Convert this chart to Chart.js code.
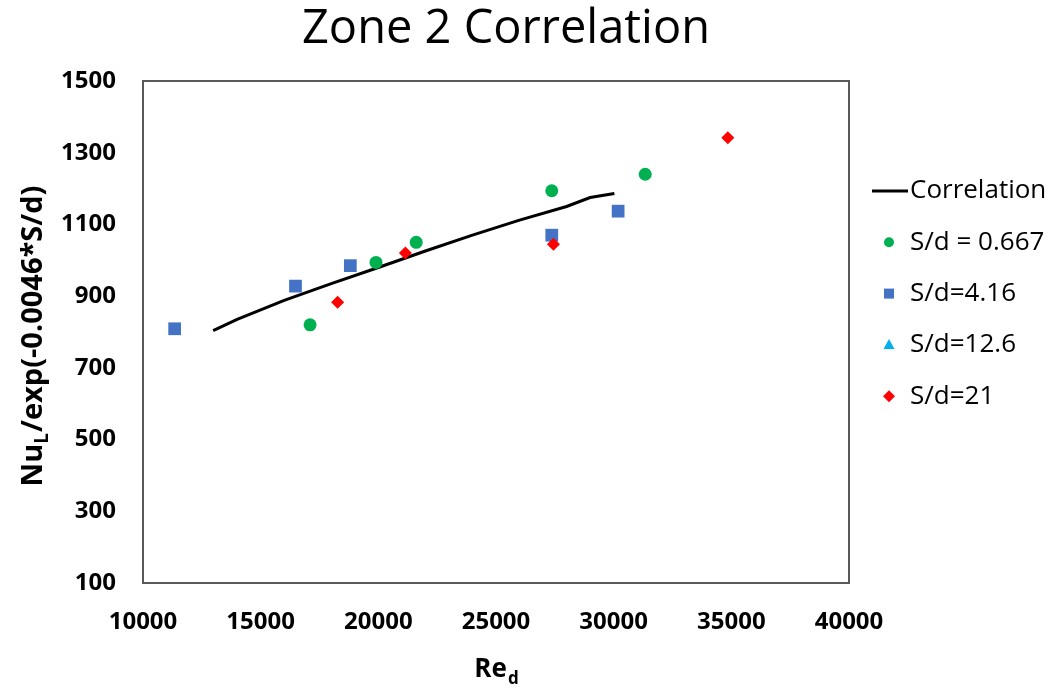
<!DOCTYPE html>
<html><head><meta charset="utf-8">
<script src="https://cdn.jsdelivr.net/npm/chart.js@4.4.1/dist/chart.umd.min.js"></script>
<style>html,body{margin:0;padding:0;background:#fff;}#wrap{width:1060px;height:691px;}</style>
</head><body><div id="wrap"><canvas id="c" width="1060" height="691"></canvas></div>
<script>
const chartTitle = "Zone 2 Correlation";
const xTitleMain = "Re";
const xTitleSub = "d";
const yTitleParts = ["Nu", "L", "/exp(-0.0046*S/d)"];
const xTickLabels = [10000, 15000, 20000, 25000, 30000, 35000, 40000];
const yTickLabels = [100, 300, 500, 700, 900, 1100, 1300, 1500];
const seriesNames = ["Correlation", "S/d = 0.667", "S/d=4.16", "S/d=12.6", "S/d=21"];

const correlationRe = [12980, 14000, 16000, 18000, 20000, 22000, 24000, 26000, 28000, 29000, 30030];
const correlationNu = [804, 835, 888, 935, 980, 1026, 1070, 1112, 1150, 1175, 1186];
const sd0667Re = [17100, 19900, 21610, 27370, 31340];
const sd0667Nu = [820, 994, 1050, 1194, 1240];
const sd416Re = [11345, 16480, 18810, 27370, 30190];
const sd416Nu = [809, 928, 985, 1070, 1137];
const sd126Re = [];
const sd126Nu = [];
const sd21Re = [18270, 21150, 27440, 34850];
const sd21Nu = [883, 1020, 1045, 1342];

function pts(xs, ys) { return xs.map((x, i) => ({x: x, y: ys[i]})); }

const FONT = "'Open Sans', 'Liberation Sans', sans-serif";

const decorPlugin = {
  id: 'decor',
  afterDraw(chart) {
    const ctx = chart.ctx;
    const a = chart.chartArea;
    ctx.save();
    // plot box
    ctx.strokeStyle = '#595959';
    ctx.lineWidth = 2;
    ctx.strokeRect(a.left, a.top, a.right - a.left, a.bottom - a.top);
    // title
    ctx.fillStyle = '#000';
    ctx.font = "47px " + FONT;
    ctx.textAlign = 'center';
    ctx.textBaseline = 'alphabetic';
    ctx.fillText(chartTitle, 506, 43);
    // x title with subscript
    ctx.font = "bold 26px " + FONT;
    const wMain = ctx.measureText(xTitleMain).width;
    ctx.font = "bold 17px " + FONT;
    const wSub = ctx.measureText(xTitleSub).width;
    let sx = (a.left + a.right) / 2 - (wMain + wSub) / 2;
    ctx.textAlign = 'left';
    ctx.font = "bold 26px " + FONT;
    ctx.fillText(xTitleMain, sx, 677);
    ctx.font = "bold 17px " + FONT;
    ctx.fillText(xTitleSub, sx + wMain + 1, 684);
    // y title rotated with subscript
    ctx.translate(42, (a.top + a.bottom) / 2 + 4);
    ctx.rotate(-Math.PI / 2);
    ctx.font = "bold 29px " + FONT;
    const w0 = ctx.measureText(yTitleParts[0]).width;
    const w2 = ctx.measureText(yTitleParts[2]).width;
    ctx.font = "bold 19px " + FONT;
    const w1 = ctx.measureText(yTitleParts[1]).width;
    let tx = -(w0 + w1 + w2 + 1) / 2;
    ctx.font = "bold 29px " + FONT;
    ctx.fillText(yTitleParts[0], tx, 0);
    ctx.font = "bold 19px " + FONT;
    ctx.fillText(yTitleParts[1], tx + w0, 6);
    ctx.font = "bold 29px " + FONT;
    ctx.fillText(yTitleParts[2], tx + w0 + w1 + 1, 0);
    ctx.restore();

    // legend
    ctx.save();
    const rowY0 = 191, rowGap = 51.3, mx = 889;
    chart.data.datasets.forEach((ds, i) => {
      const y = rowY0 + i * rowGap;
      ctx.fillStyle = ds.backgroundColor || '#000';
      ctx.strokeStyle = ds.borderColor || '#000';
      if (ds.showLine) {
        ctx.lineWidth = 3;
        ctx.beginPath();
        ctx.moveTo(872, y); ctx.lineTo(908, y);
        ctx.stroke();
      } else {
        ctx.beginPath();
        const st = ds.pointStyle;
        if (st === 'circle') { ctx.arc(mx, y, 5, 0, Math.PI * 2); }
        else if (st === 'rect') { ctx.rect(mx - 5, y - 5, 10, 10); }
        else if (st === 'triangle') { ctx.moveTo(mx, y - 6); ctx.lineTo(mx + 5.5, y + 4); ctx.lineTo(mx - 5.5, y + 4); ctx.closePath(); }
        else if (st === 'rectRot') { ctx.moveTo(mx, y - 6); ctx.lineTo(mx + 6, y); ctx.lineTo(mx, y + 6); ctx.lineTo(mx - 6, y); ctx.closePath(); }
        ctx.fill();
      }
      ctx.fillStyle = '#000';
      ctx.font = "26px " + FONT;
      ctx.textAlign = 'left';
      ctx.textBaseline = 'middle';
      ctx.fillText(ds.label, 910, y);
    });
    ctx.restore();
  }
};

new Chart(document.getElementById('c'), {
  type: 'scatter',
  data: {
    datasets: [
      {label: seriesNames[0], data: pts(correlationRe, correlationNu), showLine: true, borderColor: '#000000', backgroundColor: '#000000', borderWidth: 3, pointRadius: 0, tension: 0, order: 5},
      {label: seriesNames[1], data: pts(sd0667Re, sd0667Nu), pointStyle: 'circle', pointRadius: 6.5, backgroundColor: '#00B050', borderColor: '#00B050', borderWidth: 0, order: 1},
      {label: seriesNames[2], data: pts(sd416Re, sd416Nu), pointStyle: 'rect', pointRadius: 9, backgroundColor: '#4472C4', borderColor: '#4472C4', borderWidth: 0, order: 2},
      {label: seriesNames[3], data: pts(sd126Re, sd126Nu), pointStyle: 'triangle', pointRadius: 7, backgroundColor: '#00B0F0', borderColor: '#00B0F0', borderWidth: 0, order: 3},
      {label: seriesNames[4], data: pts(sd21Re, sd21Nu), pointStyle: 'rectRot', pointRadius: 6.5, backgroundColor: '#FF0000', borderColor: '#FF0000', borderWidth: 0, order: 0}
    ]
  },
  options: {
    responsive: false,
    animation: false,
    devicePixelRatio: 1,
    layout: {padding: {top: 81, right: 211, bottom: 0, left: 0}},
    plugins: {legend: {display: false}, title: {display: false}, tooltip: {enabled: false}},
    scales: {
      x: {
        type: 'linear', min: 10000, max: 40000,
        afterBuildTicks: s => { s.ticks = xTickLabels.map(v => ({value: v})); },
        afterFit: s => { s.height = 108; },
        grid: {display: false, drawTicks: false},
        border: {display: false},
        ticks: {color: '#000', padding: 25, maxRotation: 0, autoSkip: false, font: {family: FONT, size: 24, weight: 'bold'}, callback: v => String(v)}
      },
      y: {
        type: 'linear', min: 100, max: 1500,
        afterBuildTicks: s => { s.ticks = yTickLabels.map(v => ({value: v})); },
        afterFit: s => { s.width = 143; },
        grid: {display: false, drawTicks: false},
        border: {display: false},
        ticks: {color: '#000', padding: 27, autoSkip: false, font: {family: FONT, size: 24, weight: 'bold'}, callback: v => String(v)}
      }
    }
  },
  plugins: [decorPlugin]
});
</script>
</body></html>
